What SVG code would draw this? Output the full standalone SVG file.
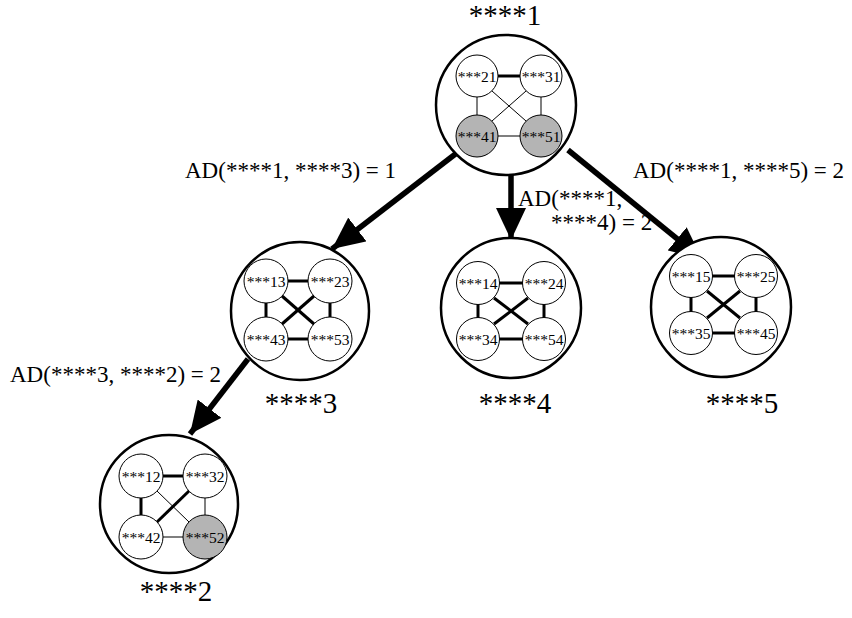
<svg xmlns="http://www.w3.org/2000/svg" width="852" height="618" viewBox="0 0 852 618">
  <style>
    .big { fill: #ffffff; stroke: #000000; stroke-width: 2.5; }
    .sub { fill: #ffffff; stroke: #000000; stroke-width: 1; }
    .sub.hit { fill: #b4b4b4; }
    .e-thick { stroke: #000000; stroke-width: 3; }
    .e-thin { stroke: #000000; stroke-width: 1; }
    .e-grey { stroke: #555555; stroke-width: 1.5; }
    .arrow { stroke: #000000; stroke-width: 5.5; fill: none; marker-end: url(#head); }
    text { font-family: "Liberation Serif", "Times New Roman", serif; fill: #000000; }
    .sl { font-size: 15.5px; text-anchor: middle; }
    .nl { font-size: 29px; text-anchor: middle; }
    .el { font-size: 23px; }
  </style>
  <defs>
    <marker id="head" markerUnits="userSpaceOnUse" markerWidth="34" markerHeight="30" refX="32" refY="15" orient="auto">
      <path d="M0,0 L32,15 L0,30 Z" fill="#000000"/>
    </marker>
  </defs>

  <!-- parent-to-child connectors -->
  <g id="connectors">
    <line class="arrow" x1="458" y1="152" x2="332" y2="249"/>
    <line class="arrow" x1="511" y1="175" x2="511" y2="240"/>
    <line class="arrow" x1="568" y1="150" x2="702" y2="259"/>
    <line class="arrow" x1="248" y1="359" x2="190" y2="434"/>
  </g>

  <!-- edge labels -->
  <g id="edge-labels">
    <text class="el" x="185" y="178">AD(****1, ****3) = 1</text>
    <text class="el" x="633" y="178">AD(****1, ****5) = 2</text>
    <text class="el" x="518" y="206">AD(****1,</text>
    <text class="el" x="551" y="230">****4) = 2</text>
    <text class="el" x="10" y="382">AD(****3, ****2) = 2</text>
  </g>

  <!-- node 1 -->
  <g id="node1">
    <circle class="big" cx="506" cy="105" r="70"/>
    <line class="e-thick" x1="498" y1="76" x2="520" y2="76"/>
    <line class="e-grey" x1="477" y1="97" x2="477" y2="115"/>
    <line class="e-grey" x1="541" y1="97" x2="541" y2="115"/>
    <line class="e-grey" x1="498" y1="136" x2="520" y2="136"/>
    <line class="e-thin" x1="492" y1="91" x2="526" y2="121"/>
    <line class="e-thin" x1="526" y1="91" x2="492" y2="121"/>
    <circle class="sub" cx="477" cy="76" r="21"/>
    <circle class="sub" cx="541" cy="76" r="21"/>
    <circle class="sub hit" cx="477" cy="136" r="21"/>
    <circle class="sub hit" cx="541" cy="136" r="21"/>
    <text class="sl" x="477" y="81.5">***21</text>
    <text class="sl" x="541" y="81.5">***31</text>
    <text class="sl" x="477" y="141.5">***41</text>
    <text class="sl" x="541" y="141.5">***51</text>
    <text class="nl" x="505" y="25">****1</text>
  </g>

  <!-- node 3 -->
  <g id="node3">
    <circle class="big" cx="300" cy="311" r="69"/>
    <line class="e-thick" x1="288" y1="281" x2="308" y2="281"/>
    <line class="e-thick" x1="266" y1="303" x2="266" y2="317"/>
    <line class="e-thick" x1="330" y1="303" x2="330" y2="317"/>
    <line class="e-thick" x1="288" y1="339" x2="308" y2="339"/>
    <line class="e-thick" x1="282" y1="296" x2="314" y2="324"/>
    <line class="e-thick" x1="314" y1="296" x2="282" y2="324"/>
    <circle class="sub" cx="266" cy="281" r="22"/>
    <circle class="sub" cx="330" cy="281" r="22"/>
    <circle class="sub" cx="266" cy="339" r="22"/>
    <circle class="sub" cx="330" cy="339" r="22"/>
    <text class="sl" x="266" y="286.5">***13</text>
    <text class="sl" x="330" y="286.5">***23</text>
    <text class="sl" x="266" y="344.5">***43</text>
    <text class="sl" x="330" y="344.5">***53</text>
    <text class="nl" x="301" y="413">****3</text>
  </g>

  <!-- node 4 -->
  <g id="node4">
    <circle class="big" cx="511" cy="308" r="70"/>
    <line class="e-thick" x1="499" y1="283" x2="523" y2="283"/>
    <line class="e-thick" x1="478" y1="304" x2="478" y2="318"/>
    <line class="e-thick" x1="544" y1="304" x2="544" y2="318"/>
    <line class="e-thick" x1="499" y1="339" x2="523" y2="339"/>
    <line class="e-thick" x1="494" y1="298" x2="528" y2="324"/>
    <line class="e-thick" x1="528" y1="298" x2="494" y2="324"/>
    <circle class="sub" cx="478" cy="283" r="21.5"/>
    <circle class="sub" cx="544" cy="283" r="21.5"/>
    <circle class="sub" cx="478" cy="339" r="21.5"/>
    <circle class="sub" cx="544" cy="339" r="21.5"/>
    <text class="sl" x="478" y="288.5">***14</text>
    <text class="sl" x="544" y="288.5">***24</text>
    <text class="sl" x="478" y="344.5">***34</text>
    <text class="sl" x="544" y="344.5">***54</text>
    <text class="nl" x="515" y="413">****4</text>
  </g>

  <!-- node 5 -->
  <g id="node5">
    <circle class="big" cx="721" cy="307" r="70"/>
    <line class="e-thick" x1="712" y1="276" x2="735" y2="276"/>
    <line class="e-thick" x1="691" y1="297" x2="691" y2="312"/>
    <line class="e-thick" x1="756" y1="297" x2="756" y2="312"/>
    <line class="e-thick" x1="712" y1="333" x2="735" y2="333"/>
    <line class="e-thick" x1="707" y1="291" x2="740" y2="318"/>
    <line class="e-thick" x1="740" y1="291" x2="707" y2="318"/>
    <circle class="sub" cx="691" cy="276" r="21.5"/>
    <circle class="sub" cx="756" cy="276" r="21.5"/>
    <circle class="sub" cx="691" cy="333" r="21.5"/>
    <circle class="sub" cx="756" cy="333" r="21.5"/>
    <text class="sl" x="691" y="281.5">***15</text>
    <text class="sl" x="756" y="281.5">***25</text>
    <text class="sl" x="691" y="338.5">***35</text>
    <text class="sl" x="756" y="338.5">***45</text>
    <text class="nl" x="742" y="413">****5</text>
  </g>

  <!-- node 2 -->
  <g id="node2">
    <circle class="big" cx="169" cy="504" r="69"/>
    <line class="e-thick" x1="163" y1="476" x2="183" y2="476"/>
    <line class="e-thick" x1="141" y1="498" x2="141" y2="515"/>
    <line class="e-grey" x1="205" y1="498" x2="205" y2="515"/>
    <line class="e-grey" x1="163" y1="537" x2="183" y2="537"/>
    <line class="e-thin" x1="157" y1="491" x2="189" y2="522"/>
    <line class="e-thick" x1="189" y1="491" x2="157" y2="522"/>
    <circle class="sub" cx="141" cy="476" r="22"/>
    <circle class="sub" cx="205" cy="476" r="22"/>
    <circle class="sub" cx="141" cy="537" r="22"/>
    <circle class="sub hit" cx="205" cy="537" r="22"/>
    <text class="sl" x="141" y="481.5">***12</text>
    <text class="sl" x="205" y="481.5">***32</text>
    <text class="sl" x="141" y="542.5">***42</text>
    <text class="sl" x="205" y="542.5">***52</text>
    <text class="nl" x="176" y="601">****2</text>
  </g>
</svg>
